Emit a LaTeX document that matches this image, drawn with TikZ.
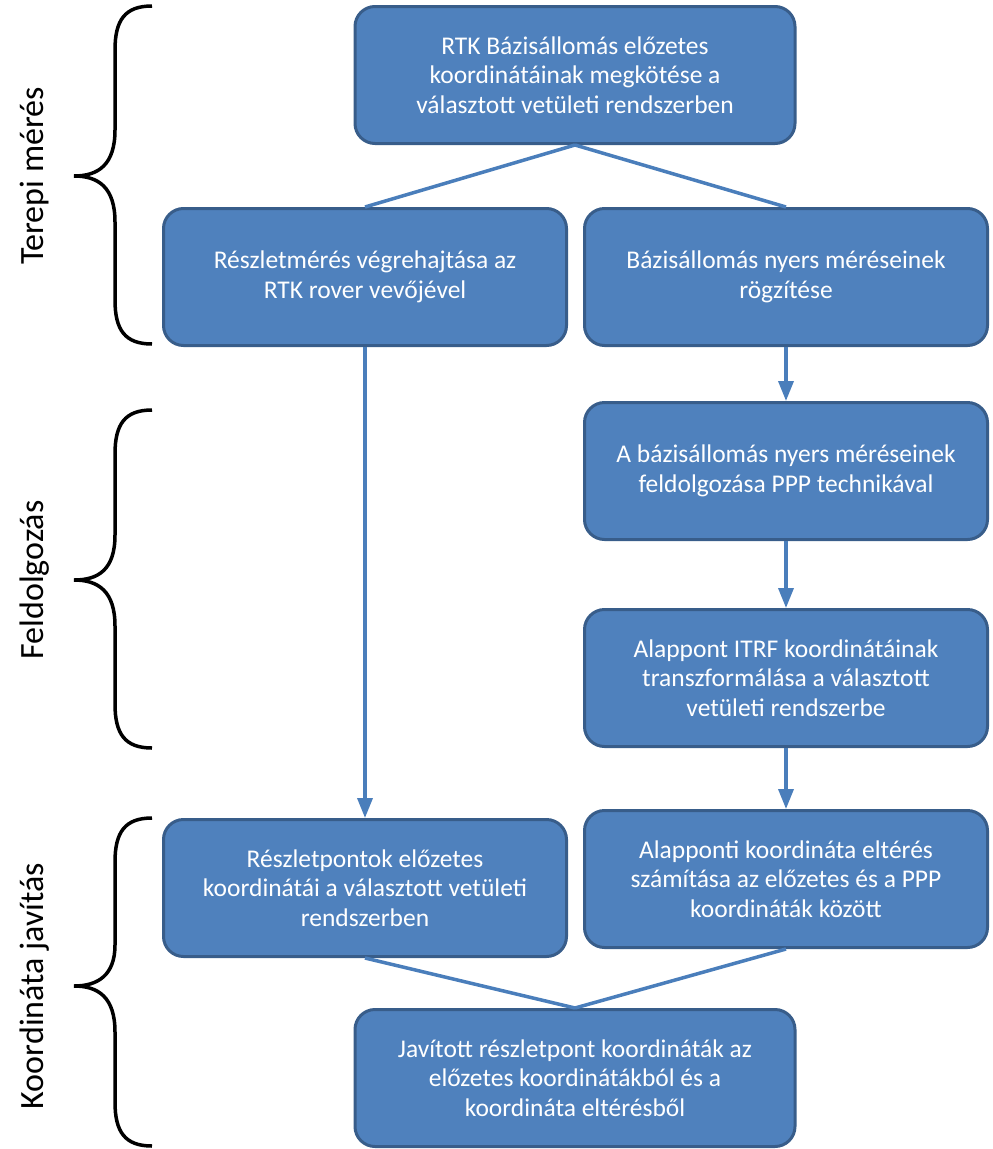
\documentclass[tikz,border=0pt]{standalone}
\usepackage{fontspec}
\setmainfont{Carlito}
\usetikzlibrary{arrows.meta}
\definecolor{boxfill}{HTML}{4F81BD}
\definecolor{boxline}{HTML}{385D8A}
\definecolor{conn}{HTML}{4A7EBB}
\begin{document}
\begin{tikzpicture}[x=1pt,y=-1pt,
  flowbox/.style={draw=boxline, line width=3pt, fill=boxfill, rounded corners=20pt,
    text=white, align=center, font=\fontsize{25.5}{29.5}\selectfont, inner sep=0pt},
  wide/.style={minimum width=440pt, minimum height=137pt},
  side/.style={minimum width=403pt, minimum height=137pt},
  conline/.style={draw=conn, line width=3.5pt},
  conarrow/.style={conline, -{Triangle[width=15pt,length=20pt]}},
  bracepath/.style={draw=black, line width=3.5pt},
  phase/.style={rotate=90, font=\fontsize{34}{40}\selectfont}]
\useasboundingbox (0,0) rectangle (993,1149);

\node[flowbox, wide] (top) at (575,75) {RTK Bázisállomás előzetes\\koordinátáinak megkötése a\\választott vetületi rendszerben};
\node[flowbox, side] (rl) at (365,277) {Részletmérés végrehajtása az\\RTK rover vevőjével};
\node[flowbox, side] (br) at (786,277) {Bázisállomás nyers méréseinek\\rögzítése};
\node[flowbox, side] (ppp) at (786,471) {A bázisállomás nyers méréseinek\\feldolgozása PPP technikával};
\node[flowbox, side] (tr) at (786,678) {Alappont ITRF koordinátáinak\\transzformálása a választott\\vetületi rendszerbe};
\node[flowbox, side] (diff) at (786,879) {Alapponti koordináta eltérés\\számítása az előzetes és a PPP\\koordináták között};
\node[flowbox, side] (rp) at (365,888) {Részletpontok előzetes\\koordinátái a választott vetületi\\rendszerben};
\node[flowbox, wide] (fin) at (575,1078) {Javított részletpont koordináták az\\előzetes koordinátákból és a\\koordináta eltérésből};

\draw[conline] (top.south) -- (rl.north);
\draw[conline] (top.south) -- (br.north);
\draw[conarrow] (rl.south) -- (rp.north);
\draw[conarrow] (br.south) -- (ppp.north);
\draw[conarrow] (ppp.south) -- (tr.north);
\draw[conarrow] (tr.south) -- (diff.north);
\draw[conline] (rp.south) -- (fin.north);
\draw[conline] (diff.south) -- (fin.north);

% braces
\draw[bracepath] (152,6) .. controls (125,6) and (115,20) .. (115,50) -- (115,130)
  .. controls (115,165) and (98,176) .. (74,176)
  .. controls (98,176) and (115,187) .. (115,222) -- (115,300)
  .. controls (115,330) and (125,344) .. (152,344);
\draw[bracepath] (152,410) .. controls (125,410) and (115,424) .. (115,454) -- (115,535)
  .. controls (115,570) and (98,580) .. (74,580)
  .. controls (98,580) and (115,591) .. (115,626) -- (115,704)
  .. controls (115,734) and (125,748) .. (152,748);
\draw[bracepath] (152,818) .. controls (125,818) and (115,832) .. (115,862) -- (115,945)
  .. controls (115,975) and (98,986) .. (74,986)
  .. controls (98,986) and (115,997) .. (115,1032) -- (115,1102)
  .. controls (115,1132) and (125,1146) .. (152,1146);

\node[phase] (p1) at (35,176) {Terepi mérés};
\node[phase] (p2) at (35,580) {Feldolgozás};
\node[phase] (p3) at (35,986) {Koordináta javítás};
\end{tikzpicture}
\end{document}
